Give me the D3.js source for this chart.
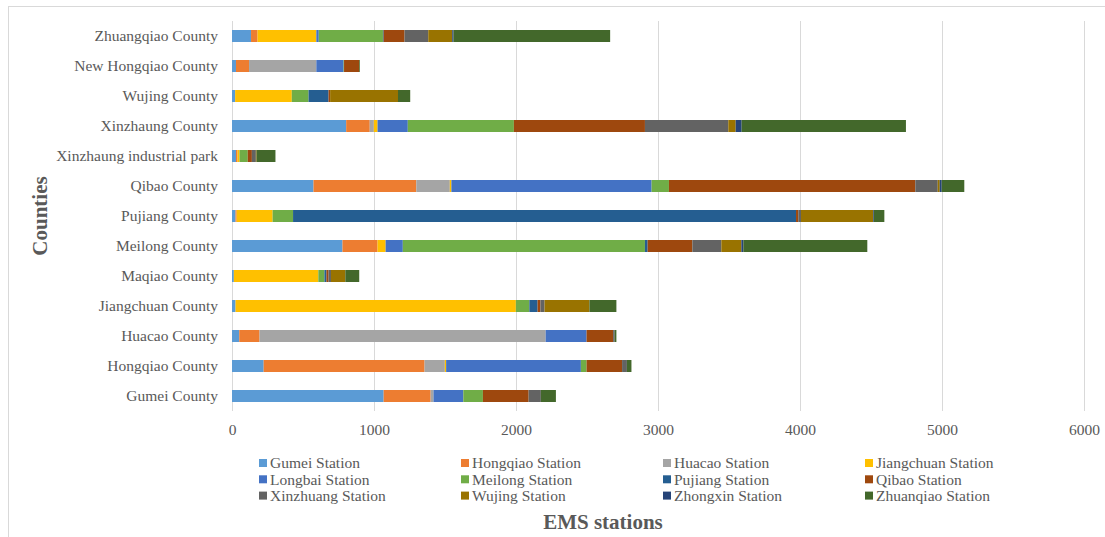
<!DOCTYPE html>
<html>

<head>
  <title>EMS stations by county</title>
  <style>
    body { margin: 0; background: #fff; }
    text { font-family: "Liberation Serif", "Times New Roman", serif; }
  </style>
</head>

<body>
  <svg id="svg"></svg>

  <script src="https://d3js.org/d3.v7.min.js"></script>
  <script>
    // counties, top to bottom as drawn
    let counties = ["Zhuangqiao County", "New Hongqiao County", "Wujing County", "Xinzhaung County",
      "Xinzhaung industrial park", "Qibao County", "Pujiang County", "Meilong County", "Maqiao County",
      "Jiangchuan County", "Huacao County", "Hongqiao County", "Gumei County"];

    let stations = ["Gumei Station", "Hongqiao Station", "Huacao Station", "Jiangchuan Station",
      "Longbai Station", "Meilong Station", "Pujiang Station", "Qibao Station",
      "Xinzhuang Station", "Wujing Station", "Zhongxin Station", "Zhuanqiao Station"];

    // one array per station, values follow the counties order
    let gumei = [134, 28, 22, 804, 28, 574, 25, 778, 13, 25, 51, 223, 1068];
    let hongqiao = [46, 92, 0, 166, 11, 724, 8, 247, 0, 0, 143, 1133, 331];
    let huacao = [0, 474, 0, 29, 0, 236, 0, 0, 0, 0, 2015, 143, 20];
    let jiangchuan = [414, 0, 399, 26, 14, 11, 253, 57, 595, 1974, 0, 9, 0];
    let longbai = [17, 192, 0, 213, 0, 1410, 0, 121, 0, 0, 288, 949, 210];
    let meilong = [452, 3, 118, 747, 58, 122, 144, 1705, 43, 95, 0, 40, 138];
    let pujiang = [5, 0, 141, 0, 0, 0, 3542, 19, 14, 58, 0, 0, 0];
    let qibao = [147, 107, 11, 923, 29, 1735, 16, 315, 15, 20, 187, 250, 322];
    let xinzhuang = [167, 0, 0, 587, 28, 158, 19, 204, 17, 29, 11, 34, 86];
    let wujing = [169, 0, 478, 52, 5, 14, 509, 141, 101, 316, 0, 0, 0];
    let zhongxin = [9, 0, 0, 42, 0, 14, 5, 14, 0, 0, 0, 0, 0];
    let zhuanqiao = [1103, 5, 86, 1157, 133, 159, 73, 873, 98, 190, 12, 32, 106];

    let xTicks = [0, 1000, 2000, 3000, 4000, 5000, 6000];

    let series = [gumei, hongqiao, huacao, jiangchuan, longbai, meilong, pujiang, qibao,
      xinzhuang, wujing, zhongxin, zhuanqiao];
    let colors = ["#5B9BD5", "#ED7D31", "#A5A5A5", "#FFC000", "#4472C4", "#70AD47",
      "#255E91", "#9E480E", "#636363", "#997300", "#264478", "#43682B"];

    let width = 1105, height = 537;
    let margin = { top: 21, right: 21, bottom: 126, left: 232 };
    let plotW = 1084 - margin.left, plotH = 411 - margin.top;

    let rows = counties.map((c, i) => {
      let r = { county: c };
      stations.forEach((s, j) => r[s] = series[j][i]);
      return r;
    });
    let stacked = d3.stack().keys(stations)(rows);

    let svg = d3.select("#svg").attr("width", width).attr("height", height);

    svg.append("rect")
      .attr("x", 8.5).attr("y", 6.5)
      .attr("width", 1110).attr("height", 540)
      .attr("fill", "none").attr("stroke", "#d9d9d9");

    let g = svg.append("g").attr("transform", `translate(${margin.left}, ${margin.top})`);

    let x = d3.scaleLinear().domain([0, 6000]).range([0, plotW]);
    let y = d3.scaleBand().domain(counties).range([0, plotH]).paddingInner(0.6).paddingOuter(0.3);
    let z = d3.scaleOrdinal().domain(stations).range(colors);

    // vertical gridlines
    g.selectAll(".grid")
      .data(xTicks)
      .join("line")
      .attr("x1", d => Math.round(x(d)) + 0.5)
      .attr("x2", d => Math.round(x(d)) + 0.5)
      .attr("y1", 0).attr("y2", plotH)
      .attr("stroke", "#d9d9d9");

    g.selectAll(".layer")
      .data(stacked)
      .join("g")
      .attr("fill", d => z(d.key))
      .selectAll("rect")
      .data(d => d)
      .join("rect")
      .attr("x", d => x(d[0]))
      .attr("y", d => y(d.data.county))
      .attr("width", d => Math.max(0, x(d[1]) - x(d[0])))
      .attr("height", y.bandwidth());

    // category labels
    let yAxis = g.append("g").call(d3.axisLeft(y).tickSize(0).tickPadding(14));
    yAxis.select(".domain").remove();
    yAxis.selectAll("text")
      .style("font-family", "'Liberation Serif', serif")
      .style("font-size", "15.5px")
      .attr("fill", "#595959");

    let xAxis = g.append("g")
      .attr("transform", `translate(0, ${plotH})`)
      .call(d3.axisBottom(x).tickValues(xTicks).tickFormat(d3.format("d")).tickSize(0).tickPadding(13));
    xAxis.select(".domain").remove();
    xAxis.selectAll("text")
      .style("font-family", "'Liberation Serif', serif")
      .style("font-size", "15.5px")
      .attr("fill", "#595959");

    // axis titles
    svg.append("text")
      .attr("transform", "translate(47, 216) rotate(-90)")
      .attr("text-anchor", "middle")
      .style("font-size", "21px")
      .style("font-weight", "bold")
      .attr("fill", "#595959")
      .text("Counties");

    svg.append("text")
      .attr("x", 603).attr("y", 529)
      .attr("text-anchor", "middle")
      .style("font-size", "21px")
      .style("font-weight", "bold")
      .attr("fill", "#595959")
      .text("EMS stations");

    // legend, 4 columns x 3 rows
    let legend = svg.append("g")
      .selectAll("g")
      .data(stations)
      .join("g")
      .attr("transform", (d, i) => `translate(${259 + (i % 4) * 202}, ${463 + Math.floor(i / 4) * 16.3})`);

    legend.append("rect")
      .attr("x", 0).attr("y", -4)
      .attr("width", 8).attr("height", 8)
      .attr("fill", d => z(d));

    legend.append("text")
      .attr("x", 11).attr("dy", "0.35em")
      .style("font-size", "15.5px")
      .attr("fill", "#595959")
      .text(d => d);
  </script>
</body>

</html>
